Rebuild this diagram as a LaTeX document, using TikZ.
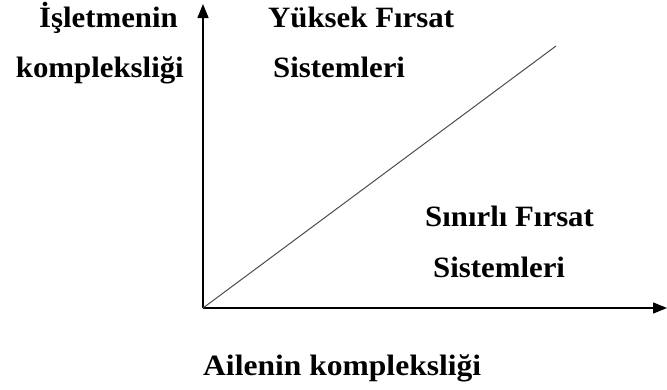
\documentclass[tikz,border=0pt]{standalone}
\usepackage{fontspec}
\setmainfont{Liberation Serif}
\usetikzlibrary{arrows.meta}
\newcommand{\wtext}[2][1.045]{\scalebox{#1}[1]{#2}}
\begin{document}
\begin{tikzpicture}[x=1pt,y=-1pt,
  lbl/.style={anchor=base west,inner sep=0pt,font=\bfseries\fontsize{29.5}{34}\selectfont},
  axis/.style={line width=1.4pt,-{Triangle[length=14pt,width=11pt]}},
  diag/.style={line width=1pt,black!70}]
\useasboundingbox (0,0) rectangle (667,389);
\coordinate (o) at (203,308);
\coordinate (ytop) at (203,4);
\coordinate (xend) at (667,308);
\coordinate (dend) at (556,46);
\draw[axis] (o) -- (ytop);
\draw[axis] (o) -- (xend);
\draw[diag] (o) -- (dend);
\node[lbl,anchor=base east] (yl1) at (178,27) {\wtext{İşletmenin}};
\node[lbl,anchor=base east] (yl2) at (184,77) {\wtext{kompleksliği}};
\node[lbl] (h1) at (268,27) {\wtext{Yüksek Fırsat}};
\node[lbl] (h2) at (273,77) {\wtext{Sistemleri}};
\node[lbl] (l1) at (425,226) {\wtext{Sınırlı Fırsat}};
\node[lbl] (l2) at (433,277) {\wtext{Sistemleri}};
\node[lbl] (xl) at (203,375) {\wtext[1.07]{Ailenin kompleksliği}};
\end{tikzpicture}
\end{document}
